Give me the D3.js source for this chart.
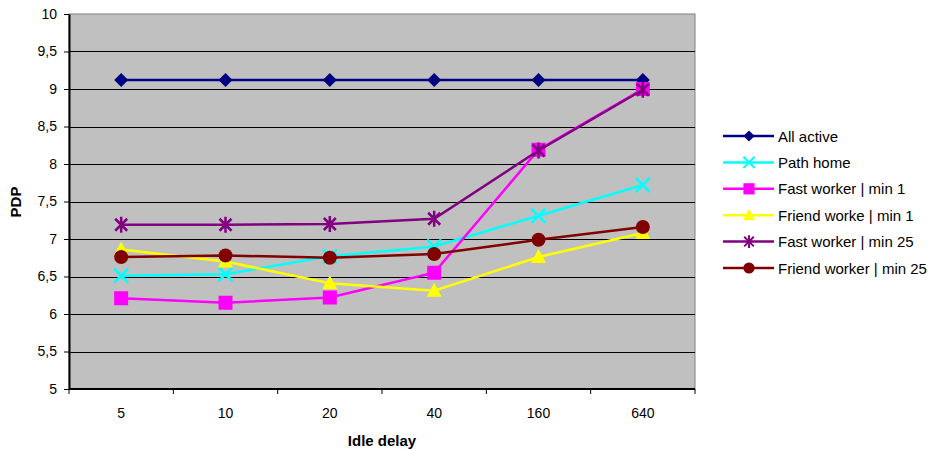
<!DOCTYPE html>
<html>
<head>
<meta charset="utf-8">
<script src="https://cdn.jsdelivr.net/npm/d3@7"></script>
<style>
  body { margin: 0; background: #fff; }
  text { font-family: "Liberation Sans", Arial, sans-serif; }
</style>
</head>
<body>
<div id="chart"></div>
<script>
var categories = ["5", "10", "20", "40", "160", "640"];
var seriesNames = ["All active", "Path home", "Fast worker | min 1", "Friend worke | min 1", "Fast worker | min 25", "Friend worker | min 25"];
var seriesColors = ["#000080", "#00ffff", "#ff00ff", "#ffff00", "#800080", "#800000"];
var seriesMarkers = ["diamond", "x", "square", "triangle", "star", "circle"];
var allActive = [9.12, 9.12, 9.12, 9.12, 9.12, 9.12];
var pathHome = [6.51, 6.53, 6.77, 6.90, 7.31, 7.72];
var fastMin1 = [6.21, 6.15, 6.22, 6.55, 8.19, 9.0];
var friendMin1 = [6.86, 6.70, 6.41, 6.31, 6.76, 7.08];
var fastMin25 = [7.19, 7.19, 7.20, 7.27, 8.18, 8.99];
var friendMin25 = [6.76, 6.78, 6.75, 6.80, 6.99, 7.16];
var yTicks = [5, 5.5, 6, 6.5, 7, 7.5, 8, 8.5, 9, 9.5, 10];

var seriesValues = [allActive, pathHome, fastMin1, friendMin1, fastMin25, friendMin25];

var margin = { top: 14, left: 69 };
var width = 626, height = 375;

var svg = d3.select("#chart").append("svg")
  .attr("width", 931).attr("height", 450);
var g = svg.append("g").attr("transform", "translate(" + margin.left + "," + margin.top + ")");

var x = d3.scaleBand().domain(categories).range([0, width]);
var y = d3.scaleLinear().domain([5, 10]).range([height, 0]);

// plot background
g.append("rect").attr("width", width).attr("height", height)
  .attr("fill", "#c0c0c0").attr("stroke", "#808080").attr("stroke-width", 1);

// gridlines
g.selectAll(".grid").data(yTicks.slice(1, -1)).enter().append("line")
  .attr("x1", 0).attr("x2", width)
  .attr("y1", function(d) { return Math.round(y(d)) + 0.5; })
  .attr("y2", function(d) { return Math.round(y(d)) + 0.5; })
  .attr("stroke", "#000").attr("stroke-width", 1);

// y axis
var yAxis = g.append("g").call(d3.axisLeft(y).tickValues(yTicks).tickSize(5).tickSizeOuter(0)
  .tickFormat(function(d) { return String(d).replace(".", ","); }));
yAxis.select(".domain").attr("stroke", "#000").attr("stroke-width", 2);
yAxis.selectAll("text").attr("font-size", 14).attr("fill", "#000").attr("dx", -4)
  .attr("font-family", "Liberation Sans, Arial, sans-serif");

// x axis with ticks between categories
var xAxisG = g.append("g").attr("transform", "translate(0," + height + ")");
xAxisG.append("line").attr("x1", 0).attr("x2", width).attr("y1", 0).attr("y2", 0)
  .attr("stroke", "#000").attr("stroke-width", 2);
var bounds = categories.map(function(c) { return x(c); }).concat([width]);
xAxisG.selectAll(".tk").data(bounds).enter().append("line")
  .attr("x1", function(d) { return d; }).attr("x2", function(d) { return d; })
  .attr("y1", 0).attr("y2", 5).attr("stroke", "#000");
xAxisG.selectAll(".lbl").data(categories).enter().append("text")
  .attr("x", function(d) { return x(d) + x.bandwidth() / 2; })
  .attr("y", 29).attr("text-anchor", "middle").attr("font-size", 14)
  .text(function(d) { return d; });

// axis titles
svg.append("text").attr("x", 382).attr("y", 446).attr("text-anchor", "middle")
  .attr("font-size", 15).attr("font-weight", "bold").text("Idle delay");
svg.append("text").attr("transform", "translate(21,202) rotate(-90)").attr("text-anchor", "middle")
  .attr("font-size", 15).attr("font-weight", "bold").text("PDP");

function drawMarker(sel, type, color) {
  if (type === "diamond") {
    sel.append("path").attr("d", "M0,-7L7,0L0,7L-7,0Z").attr("fill", color);
  } else if (type === "square") {
    sel.append("rect").attr("x", -7).attr("y", -7).attr("width", 14).attr("height", 14).attr("fill", color);
  } else if (type === "triangle") {
    sel.append("path").attr("d", "M0,-8L7.5,6L-7.5,6Z").attr("fill", color);
  } else if (type === "circle") {
    sel.append("circle").attr("r", 7).attr("fill", color);
  } else if (type === "x") {
    sel.append("path").attr("d", "M-7,-7L7,7M-7,7L7,-7").attr("stroke", color).attr("stroke-width", 2.5).attr("fill", "none");
  } else if (type === "star") {
    sel.append("path").attr("d", "M-6,-6L6,6M-6,6L6,-6M0,-8L0,8").attr("stroke", color).attr("stroke-width", 2.5).attr("fill", "none");
  }
}

var line = d3.line()
  .x(function(d, i) { return x(categories[i]) + x.bandwidth() / 2; })
  .y(function(d) { return y(d); });

seriesValues.forEach(function(vals, s) {
  g.append("path").datum(vals).attr("d", line).attr("fill", "none")
    .attr("stroke", seriesColors[s]).attr("stroke-width", 2.5);
  vals.forEach(function(v, i) {
    var m = g.append("g").attr("transform", "translate(" + (x(categories[i]) + x.bandwidth() / 2) + "," + y(v) + ")");
    drawMarker(m, seriesMarkers[s], seriesColors[s]);
  });
});

// legend
var legend = svg.append("g").attr("transform", "translate(723,136)");
seriesNames.forEach(function(name, s) {
  var row = legend.append("g").attr("transform", "translate(0," + (s * 26.4) + ")");
  row.append("line").attr("x1", 0).attr("x2", 51).attr("stroke", seriesColors[s]).attr("stroke-width", 2.5);
  var m = row.append("g").attr("transform", "translate(26,0) scale(0.8)");
  drawMarker(m, seriesMarkers[s], seriesColors[s]);
  row.append("text").attr("x", 55).attr("y", 5.5).attr("font-size", 15).text(name);
});
</script>
</body>
</html>
